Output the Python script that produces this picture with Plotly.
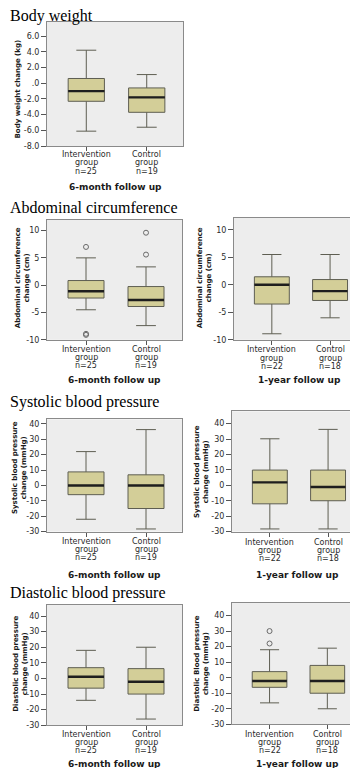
import plotly.graph_objects as go

W, H = 358, 768

# ---------------- data ----------------
groups = ["Intervention", "Control"]
n_6m = [25, 19]
n_1y = [22, 18]

# five-number summaries: [lower whisker, Q1, median, Q3, upper whisker]
bw_6m_int = [-6.1, -2.3, -1.0, 0.6, 4.2]
bw_6m_ctl = [-5.6, -3.7, -1.8, -0.6, 1.1]
ac_6m_int = [-4.5, -2.35, -1.1, 0.85, 5.0]
ac_6m_ctl = [-7.4, -3.9, -2.7, -0.25, 3.35]
ac_1y_int = [-8.9, -3.5, 0.0, 1.45, 5.5]
ac_1y_ctl = [-6.0, -2.85, -1.15, 0.95, 5.5]
sbp_6m_int = [-22.0, -6.0, 0.0, 8.8, 22.0]
sbp_6m_ctl = [-28.3, -15.0, 0.0, 6.9, 36.3]
sbp_1y_int = [-28.3, -12.0, 1.9, 9.9, 30.2]
sbp_1y_ctl = [-28.3, -10.0, -1.1, 9.9, 36.3]
dbp_6m_int = [-14.0, -6.2, 1.1, 6.9, 18.0]
dbp_6m_ctl = [-26.0, -10.0, -2.1, 6.3, 20.0]
dbp_1y_int = [-16.2, -6.2, -2.1, 3.9, 18.0]
dbp_1y_ctl = [-20.0, -10.0, -2.1, 7.9, 19.0]

# outliers
ac_6m_int_out = [7.0, -8.9, -9.1]
ac_6m_ctl_out = [9.6, 5.6]
dbp_1y_int_out = [30.0, 22.0]

# tick values / labels
bw_ticks = [-8, -6, -4, -2, 0, 2, 4, 6]
bw_ticktext = ["-8.0", "-6.0", "-4.0", "-2.0", ".0", "2.0", "4.0", "6.0"]
ac_ticks = [-10, -5, 0, 5, 10]
ac_ticktext = ["-10", "-5", "0", "5", "10"]
bp_ticks = [-30, -20, -10, 0, 10, 20, 30, 40]
bp_ticktext = ["-30", "-20", "-10", "0", "10", "20", "30", "40"]

section_titles = ["Body weight", "Abdominal circumference",
                  "Systolic blood pressure", "Diastolic blood pressure"]

# ---------------- styling ----------------
BOX_FILL = "#D3CE98"
BOX_LINE = "#5E5E52"
MED_LINE = "#1E1E1E"
PLOT_BG = "#EDEDED"
FRAME = "#8A8A8A"
TXT = "#2B2B2B"
SANS = "DejaVu Sans"
SERIF = "Liberation Serif"
BOX_W = 0.6
XR = [-0.65, 1.6]

# panel specs: data, outliers, n, follow-up, y-title, y-range, ticks,
# frame px (x0,x1,y0,y1), y-title px (x,y), label offsets px (first tick line, x title)
panels = [
    (bw_6m_int, bw_6m_ctl, [], [], n_6m, "6-month follow up",
     "Body weight change (kg)", [-8, 7.8], bw_ticks, bw_ticktext, (39, 175, 14, 139), (10, 82), (8.5, 41.5)),
    (ac_6m_int, ac_6m_ctl, ac_6m_int_out, ac_6m_ctl_out, n_6m, "6-month follow up",
     "Abdominal circumference<br>change (cm)", [-10, 12], ac_ticks, ac_ticktext, (39, 174, 213, 334), (14, 272), (9.3, 40)),
    (ac_1y_int, ac_1y_ctl, [], [], n_1y, "1-year follow up",
     "Abdominal circumference<br>change (cm)", [-10, 12.2], ac_ticks, ac_ticktext, (226, 357, 211, 334), (196, 272), (10, 40)),
    (sbp_6m_int, sbp_6m_ctl, [], [], n_6m, "6-month follow up",
     "Systolic blood pressure<br>change (mmHg)", [-30, 43], bp_ticks, bp_ticktext, (39, 174, 414, 527), (12, 463), (9.7, 44)),
    (sbp_1y_int, sbp_1y_ctl, [], [], n_1y, "1-year follow up",
     "Systolic blood pressure<br>change (mmHg)", [-30, 48], bp_ticks, bp_ticktext, (224, 355, 406, 527), (194, 467), (10.5, 44)),
    (dbp_6m_int, dbp_6m_ctl, [], [], n_6m, "6-month follow up",
     "Diastolic blood pressure<br>change (mmHg)", [-30, 47], bp_ticks, bp_ticktext, (39, 174, 601, 722), (13, 660), (9, 38.7)),
    (dbp_1y_int, dbp_1y_ctl, dbp_1y_int_out, [], n_1y, "1-year follow up",
     "Diastolic Blood pressure<br>change (mmHg)", [-30, 48], bp_ticks, bp_ticktext, (224, 354, 599, 721), (194, 660), (10, 39.7)),
]
title_pos = [(0, 8), (0, 201), (0, 397), (0, 589)]


def px_x(x):
    return x / W


def px_y(y):
    return 1 - y / H


fig = go.Figure()
annotations = []
layout = {}

for i, (d_int, d_ctl, o_int, o_ctl, ns, follow, ytitle, yr, tv, tt, frame, ypos, offs) in enumerate(panels):
    k = i + 1
    xa = "x" if k == 1 else f"x{k}"
    ya = "y" if k == 1 else f"y{k}"
    xkey = "xaxis" if k == 1 else f"xaxis{k}"
    ykey = "yaxis" if k == 1 else f"yaxis{k}"
    x0, x1, y0, y1 = frame
    cats = [0, 1]
    stats = [d_int, d_ctl]

    fig.add_trace(go.Box(
        x=cats,
        lowerfence=[s[0] for s in stats],
        q1=[s[1] for s in stats],
        median=[s[2] for s in stats],
        q3=[s[3] for s in stats],
        upperfence=[s[4] for s in stats],
        width=BOX_W, whiskerwidth=0.55,
        fillcolor=BOX_FILL, line=dict(color=BOX_LINE, width=1),
        boxpoints=False, showlegend=False, hoverinfo="skip",
        xaxis=xa, yaxis=ya,
    ))
    # thick median lines
    mx, my = [], []
    for c, s in zip(cats, stats):
        mx += [c - BOX_W / 2, c + BOX_W / 2, None]
        my += [s[2], s[2], None]
    fig.add_trace(go.Scatter(x=mx, y=my, mode="lines",
                             line=dict(color=MED_LINE, width=2.4),
                             showlegend=False, hoverinfo="skip", xaxis=xa, yaxis=ya))
    # outliers
    ox = [0] * len(o_int) + [1] * len(o_ctl)
    oy = list(o_int) + list(o_ctl)
    if oy:
        fig.add_trace(go.Scatter(x=ox, y=oy, mode="markers",
                                 marker=dict(symbol="circle-open", size=5,
                                             color="#6A6A6A", line=dict(width=1)),
                                 showlegend=False, hoverinfo="skip", xaxis=xa, yaxis=ya))

    layout[xkey] = dict(domain=[px_x(x0), px_x(x1)], range=XR, anchor=ya,
                        showgrid=False, zeroline=False, showline=True, mirror=True,
                        linecolor=FRAME, linewidth=1, ticks="outside", ticklen=4,
                        tickcolor="#555555", tickvals=cats, showticklabels=False,
                        fixedrange=True)
    layout[ykey] = dict(domain=[px_y(y1), px_y(y0)], range=yr, anchor=xa,
                        showgrid=False, zeroline=False, showline=True, mirror=True,
                        linecolor=FRAME, linewidth=1, ticks="outside", ticklen=5,
                        tickcolor="#555555", tickvals=tv, ticktext=tt,
                        tickfont=dict(family=SANS, size=8, color=TXT),
                        fixedrange=True)

    # category labels (three lines each)
    for c, g, n in zip(cats, groups, ns):
        for j, line in enumerate([g, "group", f"n={n}"]):
            annotations.append(dict(
                x=c, xref=xa, y=px_y(y1 + offs[0] + 8.3 * j), yref="paper",
                text=line, showarrow=False, xanchor="center", yanchor="middle",
                font=dict(family=SANS, size=8, color=TXT)))
    # x-axis title
    annotations.append(dict(
        x=px_x((x0 + x1) / 2), xref="paper", y=px_y(y1 + offs[1]), yref="paper",
        text=f"<b>{follow}</b>", showarrow=False, xanchor="center", yanchor="middle",
        font=dict(family=SANS, size=9, color="#1A1A1A")))
    # y-axis title
    annotations.append(dict(
        x=px_x(ypos[0]), xref="paper", y=px_y(ypos[1]), yref="paper",
        text=f"<b>{ytitle}</b>", textangle=-90, showarrow=False,
        xanchor="center", yanchor="middle",
        font=dict(family=SANS, size=7, color="#1A1A1A")))

for t, (tx, ty) in zip(section_titles, title_pos):
    annotations.append(dict(
        x=px_x(tx), xref="paper", y=px_y(ty), yref="paper", text=t,
        showarrow=False, xanchor="left", yanchor="middle",
        font=dict(family=SERIF, size=16, color="#000000")))

fig.update_layout(
    width=W, height=H, margin=dict(l=0, r=0, t=0, b=0),
    paper_bgcolor="white", plot_bgcolor=PLOT_BG,
    annotations=annotations, showlegend=False,
    **layout,
)

fig.write_html("out.html", include_plotlyjs=True, config={"displayModeBar": False})
